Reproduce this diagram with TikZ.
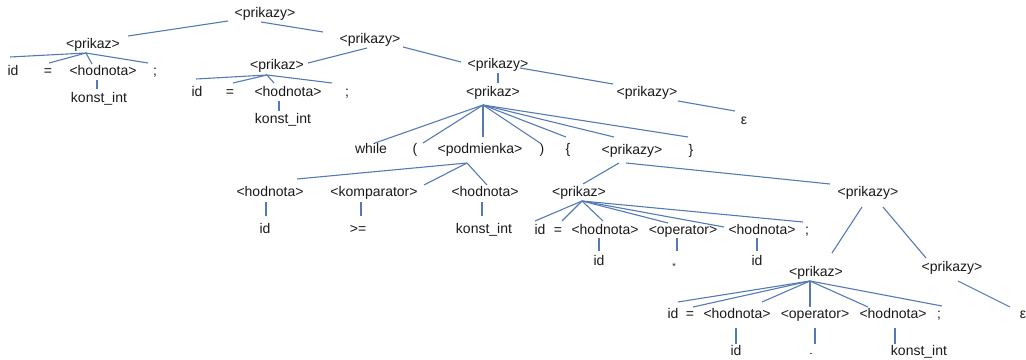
\documentclass[tikz,border=0pt]{standalone}
\usepackage{fontspec}
\setmainfont{Liberation Sans}
\usetikzlibrary{calc}
\definecolor{edgeblue}{RGB}{84,122,182}
\tikzset{
  lab/.style={font=\fontsize{14}{16}\selectfont, inner sep=0.5pt, text height=10pt, text depth=3pt, text=black!90},
  sym/.style={font=\fontsize{9}{10}\selectfont, inner sep=0pt, text=black!90},
  edge/.style={draw=edgeblue, line width=1.1pt}
}
\newcommand\treeln[6]{\draw[edge] ($(#1)+(#2,#3)$) -- ($(#4)+(#5,#6)$);}
\begin{document}
\begin{tikzpicture}[x=1pt,y=-1pt]
\useasboundingbox (0,0) rectangle (1026,359);
% nodes
\node[lab] (r0) at (265,14) {<prikazy>};
\node[lab] (p1) at (93,45) {<prikaz>};
\node[lab] (id1) at (13,72) {id};
\node[lab] (eq1) at (48,72) {=};
\node[lab] (h1) at (103,72) {<hodnota>};
\node[lab] (sc1) at (155,72) {;};
\node[lab] (k1) at (99,99) {konst\_int};
\node[lab] (r1) at (370,40) {<prikazy>};
\node[lab] (p2) at (277,66) {<prikaz>};
\node[lab] (id2) at (197,93) {id};
\node[lab] (eq2) at (230,93) {=};
\node[lab] (h2) at (288,93) {<hodnota>};
\node[lab] (sc2) at (347,93) {;};
\node[lab] (k2) at (283,120) {konst\_int};
\node[lab] (r2) at (498,65) {<prikazy>};
\node[lab] (p3) at (493,93) {<prikaz>};
\node[lab] (r3) at (647,93) {<prikazy>};
\node[lab] (eps1) at (744,121) {ε};
\node[lab] (wh) at (371,150) {while};
\node[lab] (lp) at (415,150) {(};
\node[lab] (pod) at (480,150) {<podmienka>};
\node[lab] (rp) at (542,150) {)};
\node[lab] (lb) at (568,150) {\{};
\node[lab] (r4) at (632,151) {<prikazy>};
\node[lab] (rb) at (691,151) {\}};
\node[lab] (h3) at (270,193) {<hodnota>};
\node[lab] (kom) at (374,193) {<komparator>};
\node[lab] (h4) at (485,193) {<hodnota>};
\node[lab] (id3) at (265,230) {id};
\node[lab] (ge) at (358,230) {>=};
\node[lab] (k3) at (484,230) {konst\_int};
\node[lab] (p4) at (579,193) {<prikaz>};
\node[lab] (r5) at (868,193) {<prikazy>};
\node[lab] (id4) at (540,231) {id};
\node[lab] (eq4) at (558,231) {=};
\node[lab] (h5) at (605,231) {<hodnota>};
\node[lab] (op1) at (683,231) {<operator>};
\node[lab] (h6) at (762,231) {<hodnota>};
\node[lab] (sc4) at (807,231) {;};
\node[lab] (id5) at (599,262) {id};
\node[sym] (mul) at (674,266) {*};
\node[lab] (id6) at (757,262) {id};
\node[lab] (p5) at (816,273) {<prikaz>};
\node[lab] (r6) at (952,268) {<prikazy>};
\node[lab] (eps2) at (1023,315) {ε};
\node[lab] (id7) at (673,315) {id};
\node[lab] (eq7) at (690,315) {=};
\node[lab] (h7) at (737,315) {<hodnota>};
\node[lab] (op2) at (815,315) {<operator>};
\node[lab] (h8) at (893,315) {<hodnota>};
\node[lab] (sc7) at (939,315) {;};
\node[lab] (id8) at (736,352) {id};
\node[sym] (minus) at (811,355.5) {-};
\node[lab] (k4) at (919,352) {konst\_int};
% connectors
\treeln{r0}{-37}{7}{p1}{35}{-9}
\treeln{r0}{-4}{8}{r1}{-47}{-8}
\treeln{r1}{-3}{8}{p2}{31}{-3}
\treeln{r1}{33}{7}{r2}{-37}{-3}
\treeln{r2}{0}{8}{p3}{5}{-10}
\treeln{r2}{22}{3}{r3}{-34}{-9}
\treeln{r3}{31}{8}{eps1}{-9}{-10}
\treeln{p1}{-7}{8}{id1}{-3}{-15}
\treeln{p1}{-7}{8}{eq1}{1}{-9}
\treeln{p1}{-7}{8}{h1}{-11}{-8}
\treeln{p1}{-7}{8}{sc1}{-7}{-9}
\treeln{h1}{-6}{8}{k1}{-2}{-10}
\treeln{p2}{-10}{9}{id2}{-1}{-14}
\treeln{p2}{-10}{9}{eq2}{3}{-10}
\treeln{p2}{-10}{9}{h2}{-14}{-10}
\treeln{p2}{-10}{9}{sc2}{-15}{-10}
\treeln{h2}{-9}{8}{k2}{-4}{-9}
\treeln{p3}{-10}{12}{wh}{4}{-7}
\treeln{p3}{-10}{12}{lp}{8}{-7}
\treeln{p3}{-10}{12}{pod}{3}{-13}
\treeln{p3}{-10}{12}{rp}{-2}{-7}
\treeln{p3}{-10}{12}{lb}{-2}{-13}
\treeln{p3}{-10}{12}{r4}{-18}{-14}
\treeln{p3}{-10}{12}{rb}{-3}{-14}
\treeln{pod}{-13}{13}{h3}{27}{-14}
\treeln{pod}{-13}{13}{kom}{50}{-8}
\treeln{pod}{-13}{13}{h4}{2}{-8}
\treeln{h3}{-4}{9}{id3}{1}{-14}
\treeln{kom}{-13}{9}{ge}{3}{-14}
\treeln{h4}{-3}{9}{k3}{-2}{-14}
\treeln{r4}{-13}{12}{p4}{4}{-9}
\treeln{r4}{-6}{12}{r5}{-38}{-9}
\treeln{p4}{3}{8}{id4}{-5}{-10}
\treeln{p4}{3}{8}{eq4}{4}{-10}
\treeln{p4}{3}{8}{h5}{-2}{-10}
\treeln{p4}{3}{8}{op1}{-15}{-8}
\treeln{p4}{3}{8}{h6}{-38}{-4}
\treeln{p4}{3}{8}{sc4}{-4}{-9}
\treeln{h5}{-6}{7}{id5}{0}{-11}
\treeln{op1}{-6}{7}{mul}{3}{-15}
\treeln{h6}{-5}{7}{id6}{0}{-11}
\treeln{r5}{-6}{14}{p5}{16}{-20}
\treeln{r5}{15}{14}{r6}{-26}{-10}
\treeln{r6}{6}{13}{eps2}{-13}{-8}
\treeln{p5}{-6}{8}{id7}{5}{-13}
\treeln{p5}{-6}{8}{eq7}{3}{-8}
\treeln{p5}{-6}{8}{h7}{25}{-13}
\treeln{p5}{-6}{8}{op2}{-5}{-8}
\treeln{p5}{-6}{8}{h8}{-25}{-8}
\treeln{p5}{-6}{8}{sc7}{3}{-9}
\treeln{h7}{-1}{13}{id8}{0}{-8}
\treeln{op2}{0}{13}{minus}{4}{-11.5}
\treeln{h8}{2}{13}{k4}{-24}{-8}
\end{tikzpicture}
\end{document}
